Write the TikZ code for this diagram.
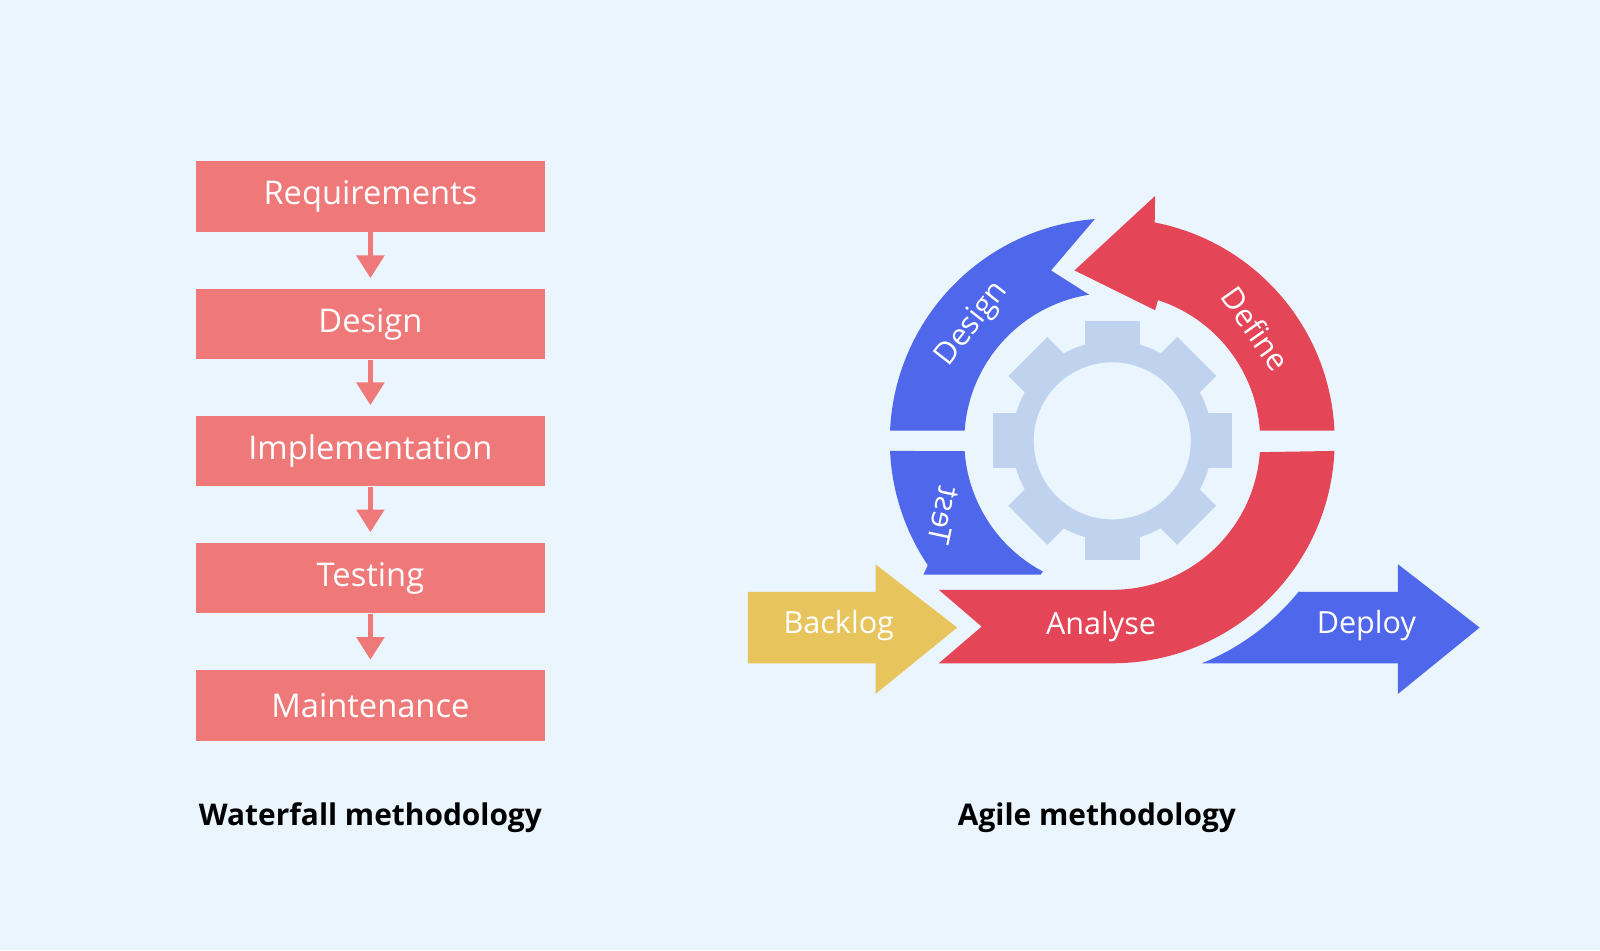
\documentclass[tikz,border=0pt]{standalone}
\usepackage{fontspec}
\setmainfont{Open Sans}
\definecolor{bg}{HTML}{EAF5FD}
\definecolor{wf}{HTML}{EF7878}
\definecolor{ared}{HTML}{E54657}
\definecolor{ablue}{HTML}{4F67EA}
\definecolor{ayel}{HTML}{E8C45C}
\definecolor{gear}{HTML}{C0D3EE}
\begin{document}
\begin{tikzpicture}[x=0.010204cm,y=-0.010204cm,
  wbox/.style={fill=wf,minimum width=342*0.010204cm,minimum height=69*0.010204cm,inner sep=0pt,text=white,font=\fontsize{9.3}{10}\selectfont},
  wlink/.style={draw=wf,line width=1.6pt},
  whead/.style={fill=wf},
  lbl/.style={font=\fontsize{8.5}{10}\selectfont\bfseries,text=black},
  atext/.style={text=white,font=\fontsize{8.7}{10}\selectfont}]
\fill[bg] (0,0) rectangle (1568,931);
\useasboundingbox (0,0) rectangle (1568,931);
% Waterfall
\node[wbox] (r) at (363,192.5) {Requirements};
\node[wbox] (d) at (363,317.5) {Design};
\node[wbox] (i) at (363,442) {Implementation};
\node[wbox] (t) at (363,566.5) {Testing};
\node[wbox] (m) at (363,691.5) {Maintenance};
\foreach \a/\b in {r/d,d/i,i/t,t/m}{
  \coordinate (tip) at ([yshift=10*0.010204cm]\b.north);
  \draw[wlink] (\a.south) -- ([yshift=20*0.010204cm]tip);
  \fill[whead] (tip) -- ++(-14,-22) -- ++(28,0) -- cycle;
}
\node[lbl] (wl) at (363,801) {Waterfall methodology};
\node[lbl] (al) at (1075,801) {Agile methodology};
% Gear
\coordinate (c) at (1090,432);
\fill[gear,even odd rule] (c) circle[radius=98] (c) circle[radius=77];
\foreach \k in {0,45,...,315}{
  \fill[gear,rotate around={\k:(c)}] ([shift={(-27,-117)}]c) rectangle ([shift={(27,-90)}]c);
}
% Design (blue)
\fill[ablue] ([shift={(c)}]-177.4:218) arc[start angle=-177.4,end angle=-94.5,radius=218]
  -- (1030,265) -- ([shift={(c)}]-99:145) arc[start angle=-99,end angle=-176,radius=145] -- cycle;
% Define (red)
\fill[ared] ([shift={(c)}]-2.6:218) arc[start angle=-2.6,end angle=-79,radius=218]
  -- (1132,192) -- (1053,265) -- (1132,304) -- ([shift={(c)}]-72:145)
  arc[start angle=-72,end angle=-4,radius=145] -- cycle;
% Test (blue)
\fill[ablue] ([shift={(c)}]177.4:218) arc[start angle=177.4,end angle=146,radius=218]
  -- (905,563) -- (1020,563) -- ([shift={(c)}]118:145) arc[start angle=118,end angle=176,radius=145] -- cycle;
% Analyse (red)
\fill[ared] ([shift={(c)}]2.6:218) arc[start angle=2.6,end angle=90,radius=218]
  -- (920,650) -- (962,614) -- (920,578) -- ([shift={(c)}]90:146)
  arc[start angle=90,end angle=4,radius=145] -- cycle;
% Backlog
\fill[ayel] (733,580) -- (858,580) -- (858,553) -- (938,615) -- (858,680) -- (858,650) -- (733,650) -- cycle;
% Deploy
\fill[ablue] (1178,650) -- (1370,650) -- (1370,680) -- (1450,615) -- (1370,553) -- (1370,580) -- ([shift={(c)}]39:235)
  arc[start angle=39,end angle=68,radius=235] -- cycle;
\node[atext] (tb) at (822,613) {Backlog};
\node[atext] (ta) at (1079,614) {Analyse};
\node[atext] (tdp) at (1339,613) {Deploy};
\node[atext,rotate=52] (tds) at (953,318) {Design};
\node[atext,rotate=-55] (tdf) at (1231,322) {Define};
\node[atext,rotate=78] (tt) at (925,505) {\scalebox{1}[-1]{Test}};
\end{tikzpicture}
\end{document}
